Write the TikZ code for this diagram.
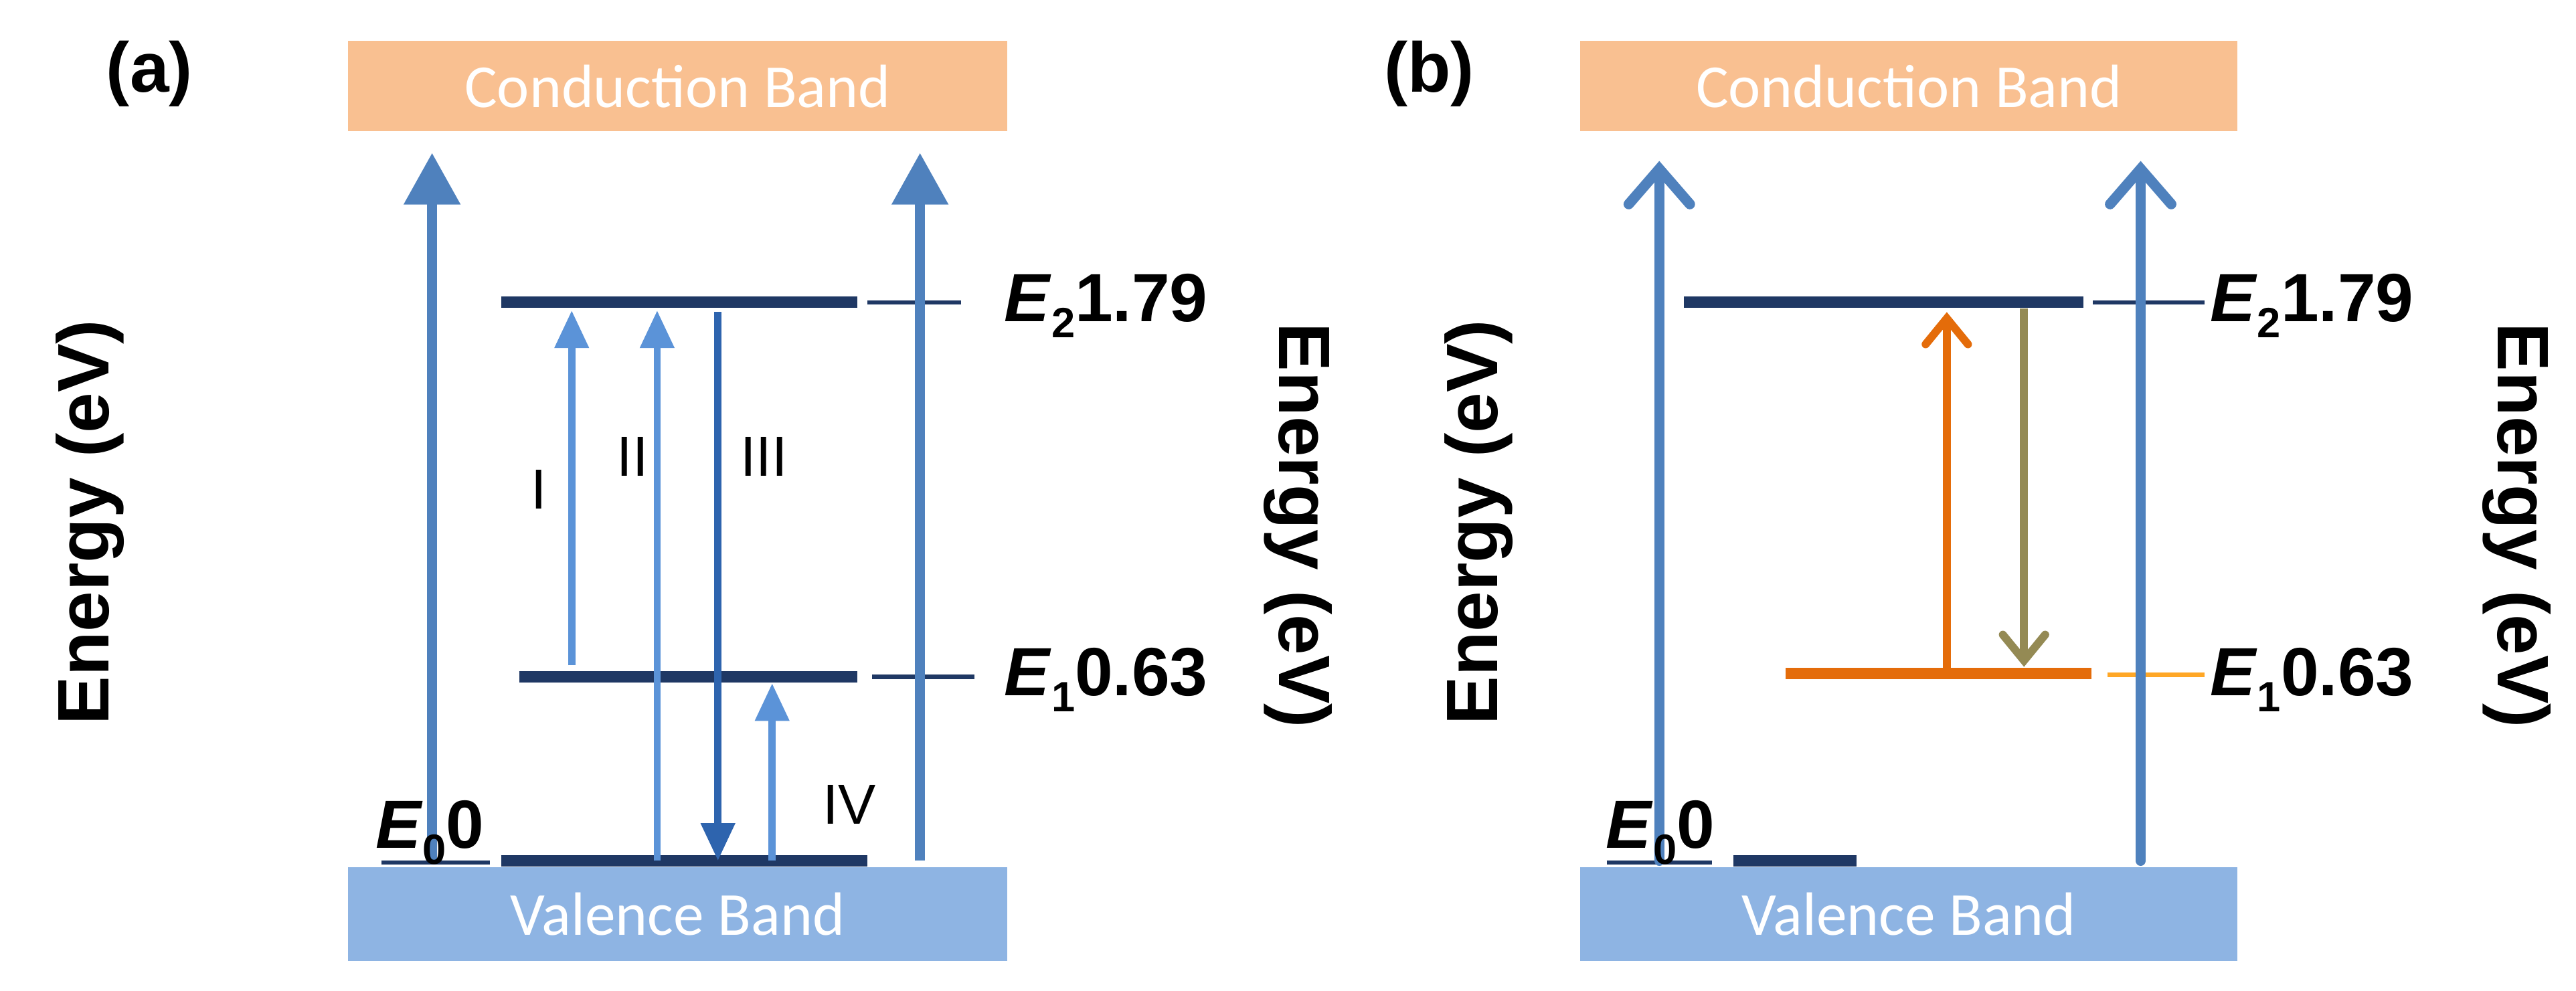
\documentclass[tikz,border=0pt]{standalone}
\usepackage{fontspec}
\setmainfont{Liberation Sans}
\newfontfamily\bandfont{Carlito}
\usetikzlibrary{arrows.meta}
\definecolor{cb}{HTML}{F9C091}
\definecolor{vb}{HTML}{8EB4E3}
\definecolor{big}{HTML}{4F81BD}
\definecolor{lt}{HTML}{5B93D8}
\definecolor{dk}{HTML}{2E64AE}
\definecolor{lv}{HTML}{1F3864}
\definecolor{org}{HTML}{E46C0A}
\definecolor{olv}{HTML}{948A54}
\definecolor{otk}{HTML}{FFA726}
\newcommand{\lvlab}[2]{\textit{E}\raisebox{-0.45ex}{\fontsize{18}{20}\selectfont #1}#2}
\begin{document}
\begin{tikzpicture}[x=0.02455cm,y=-0.02455cm,
  band/.style={draw=none,inner sep=0,text=white,font=\bandfont\fontsize{26}{30}\selectfont},
  lvl/.style={line width=5pt,draw=lv},
  tick/.style={line width=1.8pt,draw=lv},
  bigA/.style={line width=4.4pt,draw=big,-{Triangle[width=23pt,length=22pt]}},
  bigB/.style={line width=4.4pt,draw=big,-{Straight Barb[width=26pt,length=15pt,line cap=round]},line cap=round},
  smA/.style={line width=3pt,-{Triangle[width=14pt,length=16pt]}},
  smB/.style={line width=3.4pt,-{Straight Barb[width=18pt,length=11pt,line cap=round]}},
  lab/.style={font=\bfseries\fontsize{29}{32}\selectfont,anchor=west,inner sep=0},
  axl/.style={font=\bfseries\fontsize{31}{34}\selectfont},
  rom/.style={font=\fontsize{24}{26}\selectfont}]
\useasboundingbox (0,0) rectangle (1568,603);
% ---------- panel a
\node[band,fill=cb,minimum width=401*0.02455cm,minimum height=55*0.02455cm] (cbA) at (412.5,52.5) {Conduction Band};
\node[band,fill=vb,minimum width=401*0.02455cm,minimum height=57*0.02455cm] (vbA) at (412.5,556.5) {Valence Band};
\node[font=\bfseries\fontsize{30}{34}\selectfont] (la) at (91,45) {(a)};
\node[axl,rotate=90] (ea) at (55,318) {Energy (eV)};
\node[axl,rotate=-90] (ea2) at (790,320) {Energy (eV)};
\coordinate (a2l) at (305,184); \coordinate (a2r) at (522,184);
\coordinate (a1l) at (316,412); \coordinate (a1r) at (522,412);
\coordinate (a0l) at (305,524); \coordinate (a0r) at (528,524);
\draw[lvl] (a2l) -- (a2r);
\draw[lvl] (a1l) -- (a1r);
\draw[lvl] (a0l) -- (a0r);
\draw[tick] (232,525) -- (298,525);
\draw[tick] (528,184) -- (585,184);
\draw[tick] (531,412) -- (593,412);
\draw[bigA] (263,524) -- (263,93);
\draw[bigA] (560,524) -- (560,93);
\draw[smA,draw=lt] (348,405) -- (348,189);
\draw[smA,draw=lt] (400,524) -- (400,189);
\draw[smA,draw=dk] (437,190) -- (437,524);
\draw[smA,draw=lt] (470,524) -- (470,416);
\node[rom] (r1) at (328,298) {I};
\node[rom] (r2) at (385,278) {II};
\node[rom] (r3) at (465,278) {III};
\node[rom] (r4) at (517,490) {IV};
\node[lab] (E2a) at (611,186) {\lvlab{2}{1.79}};
\node[lab] (E1a) at (611,414) {\lvlab{1}{0.63}};
\node[lab,anchor=east] (E0a) at (295,507) {\lvlab{0}{0}};
% ---------- panel b
\node[band,fill=cb,minimum width=400*0.02455cm,minimum height=55*0.02455cm] (cbB) at (1162,52.5) {Conduction Band};
\node[band,fill=vb,minimum width=400*0.02455cm,minimum height=57*0.02455cm] (vbB) at (1162,556.5) {Valence Band};
\node[font=\bfseries\fontsize{30}{34}\selectfont] (lb) at (870,45) {(b)};
\node[axl,rotate=90] (eb) at (900,318) {Energy (eV)};
\node[axl,rotate=-90] (eb2) at (1532,320) {Energy (eV)};
\coordinate (b2l) at (1025,184); \coordinate (b2r) at (1268,184);
\coordinate (b1l) at (1087,410); \coordinate (b1r) at (1273,410);
\draw[lvl] (b2l) -- (b2r);
\draw[line width=5pt,draw=org] (b1l) -- (b1r);
\draw[lvl] (1055,524) -- (1130,524);
\draw[tick] (978,525) -- (1042,525);
\draw[tick] (1274,184) -- (1342,184);
\draw[line width=2pt,draw=otk] (1283,411) -- (1342,411);
\draw[bigB] (1010,524) -- (1010,98);
\draw[bigB] (1303,524) -- (1303,98);
\draw[smB,draw=org] (1185,408) -- (1185,190);
\draw[smB,draw=olv] (1232,188) -- (1232,406);
\node[lab] (E2b) at (1345,186) {\lvlab{2}{1.79}};
\node[lab] (E1b) at (1345,414) {\lvlab{1}{0.63}};
\node[lab,anchor=east] (E0b) at (1044,507) {\lvlab{0}{0}};
\end{tikzpicture}
\end{document}
